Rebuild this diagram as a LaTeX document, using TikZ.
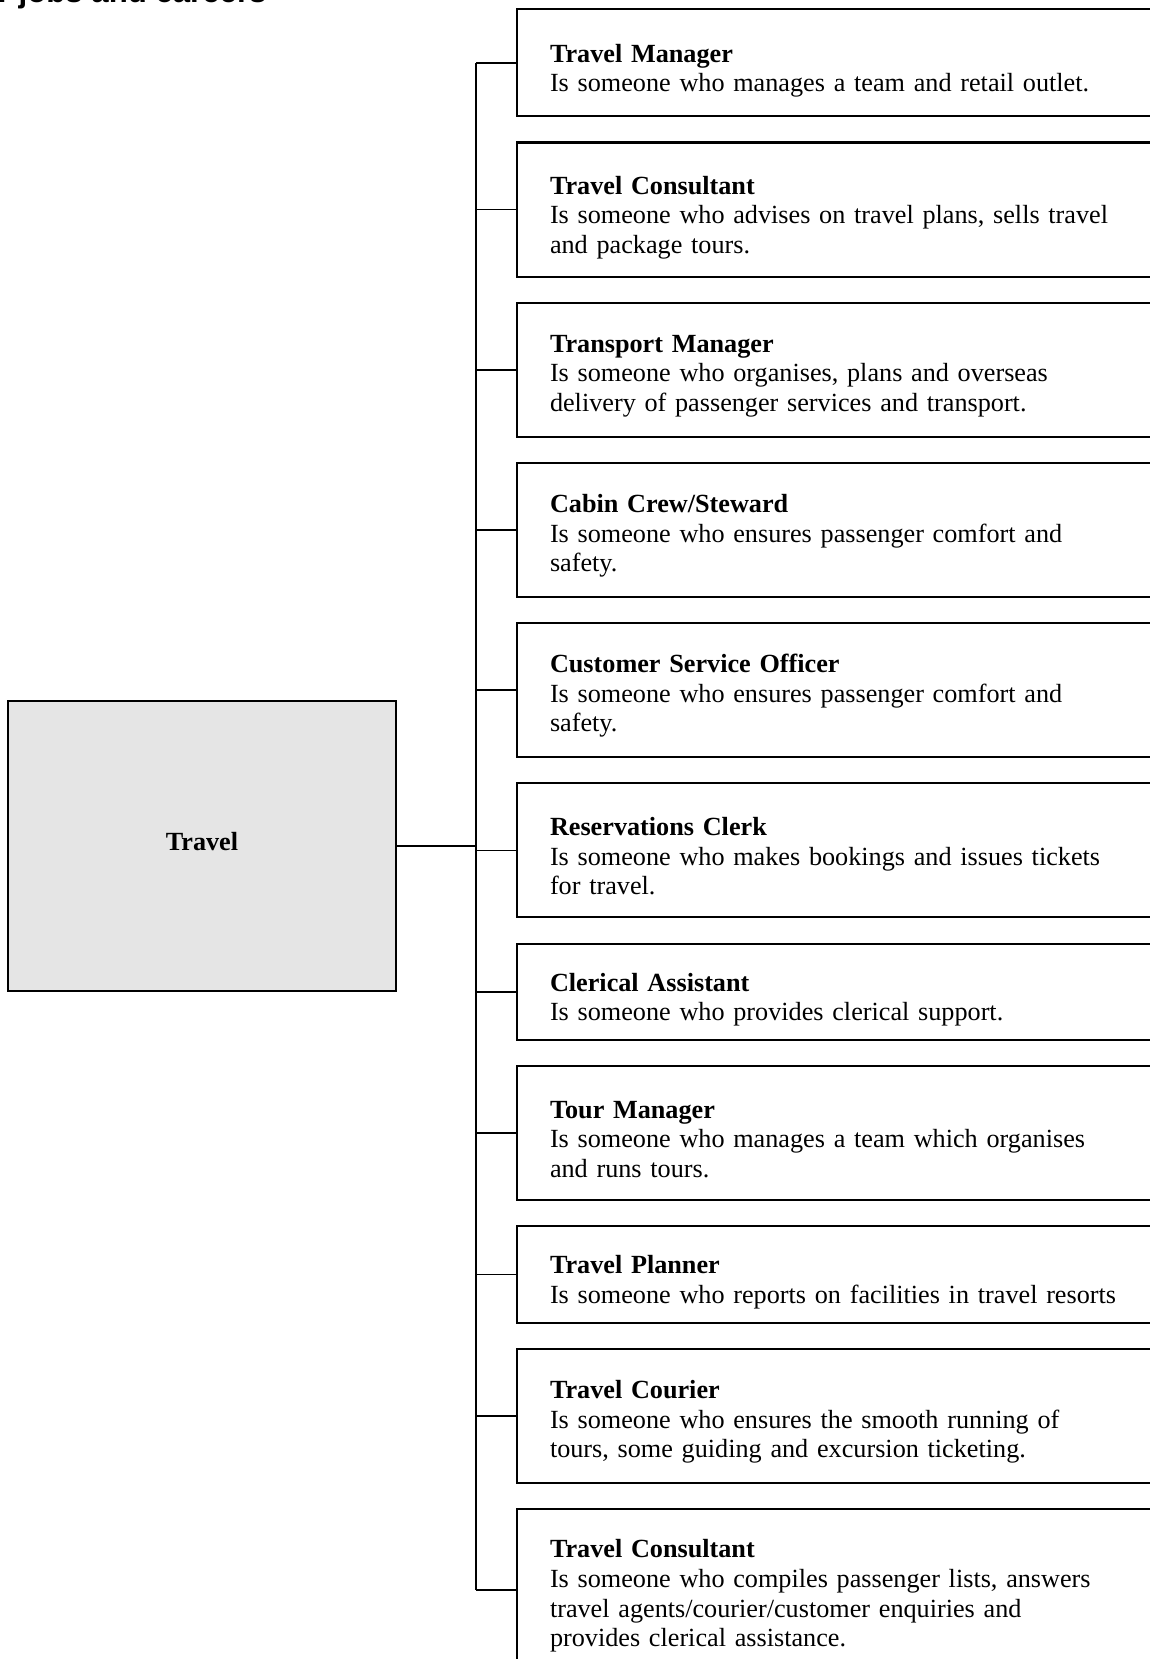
\documentclass[tikz,border=0pt]{standalone}
\usepackage{fontspec}
\setmainfont{Liberation Serif}
\newfontfamily\headfont{Liberation Sans}
\usetikzlibrary{positioning}
\definecolor{boxgrey}{HTML}{E5E5E5}

\begin{document}
\begin{tikzpicture}[x=0.5pt, y=-0.5pt,
    jobbox/.style={draw, line width=1pt, rectangle, align=left, text width=300pt,
        inner xsep=16.5pt, inner ysep=0pt, font=\fontsize{13.1}{14.8}\selectfont},
    lowered/.style={execute at begin node={\rule{0pt}{#1}}},
    lowered/.default=17pt,
    short/.style={minimum height=48.2pt},
    tall/.style={minimum height=67pt, lowered=15pt},
    link/.style={line width=0.8pt}]
    \useasboundingbox (0,0) rectangle (1150,1659);
    \clip (0,0) rectangle (1150,1659);

    \node[anchor=base east, inner sep=0pt, font=\headfont\bfseries\fontsize{15.6}{18}\selectfont] (heading) at (267,2.5) {r jobs and careers};

    \node[draw, line width=1pt, fill=boxgrey, minimum width=193.7pt, minimum height=145pt, text depth=5pt,
        font=\bfseries\fontsize{13.1}{14.8}\selectfont] (travel) at (202,846) {Travel};

    \node[jobbox, lowered, minimum height=53.4pt, anchor=north west] (j1) at (516,8.5)
        {\textbf{Travel Manager}\\Is someone who manages a team and retail outlet.};
    \node[jobbox, tall, lowered, below=12.1pt of j1] (j2)
        {\textbf{Travel Consultant}\\Is someone who advises on travel plans, sells travel\\and package tours.};
    \node[jobbox, tall, below=12.1pt of j2] (j3)
        {\textbf{Transport Manager}\\Is someone who organises, plans and overseas\\delivery of passenger services and transport.};
    \node[jobbox, tall, below=12.1pt of j3] (j4)
        {\textbf{Cabin Crew/Steward}\\Is someone who ensures passenger comfort and\\safety.};
    \node[jobbox, tall, below=12.1pt of j4] (j5)
        {\textbf{Customer Service Officer}\\Is someone who ensures passenger comfort and\\safety.};
    \node[jobbox, tall, below=12.1pt of j5] (j6)
        {\textbf{Reservations Clerk}\\Is someone who makes bookings and issues tickets\\for travel.};
    \node[jobbox, short, lowered, below=12.1pt of j6] (j7)
        {\textbf{Clerical Assistant}\\Is someone who provides clerical support.};
    \node[jobbox, tall, below=12.1pt of j7] (j8)
        {\textbf{Tour Manager}\\Is someone who manages a team which organises\\and runs tours.};
    \node[jobbox, short, lowered, below=12.1pt of j8] (j9)
        {\textbf{Travel Planner}\\Is someone who reports on facilities in travel resorts};
    \node[jobbox, tall, below=12.1pt of j9] (j10)
        {\textbf{Travel Courier}\\Is someone who ensures the smooth running of\\tours, some guiding and excursion ticketing.};
    \node[jobbox, lowered=15pt, minimum height=81pt, below=12.1pt of j10] (j11)
        {\textbf{Travel Consultant}\\Is someone who compiles passenger lists, answers\\travel agents/courier/customer enquiries and\\provides clerical assistance.};

    \coordinate (spine) at (476,846);
    \draw[link] (travel.east) -- (spine);
    \draw[link] (spine |- j1.west) -- (spine |- j11.west);
    \foreach \i in {1,...,11}
        \draw[link] (spine |- j\i.west) -- (j\i.west);
\end{tikzpicture}
\end{document}
